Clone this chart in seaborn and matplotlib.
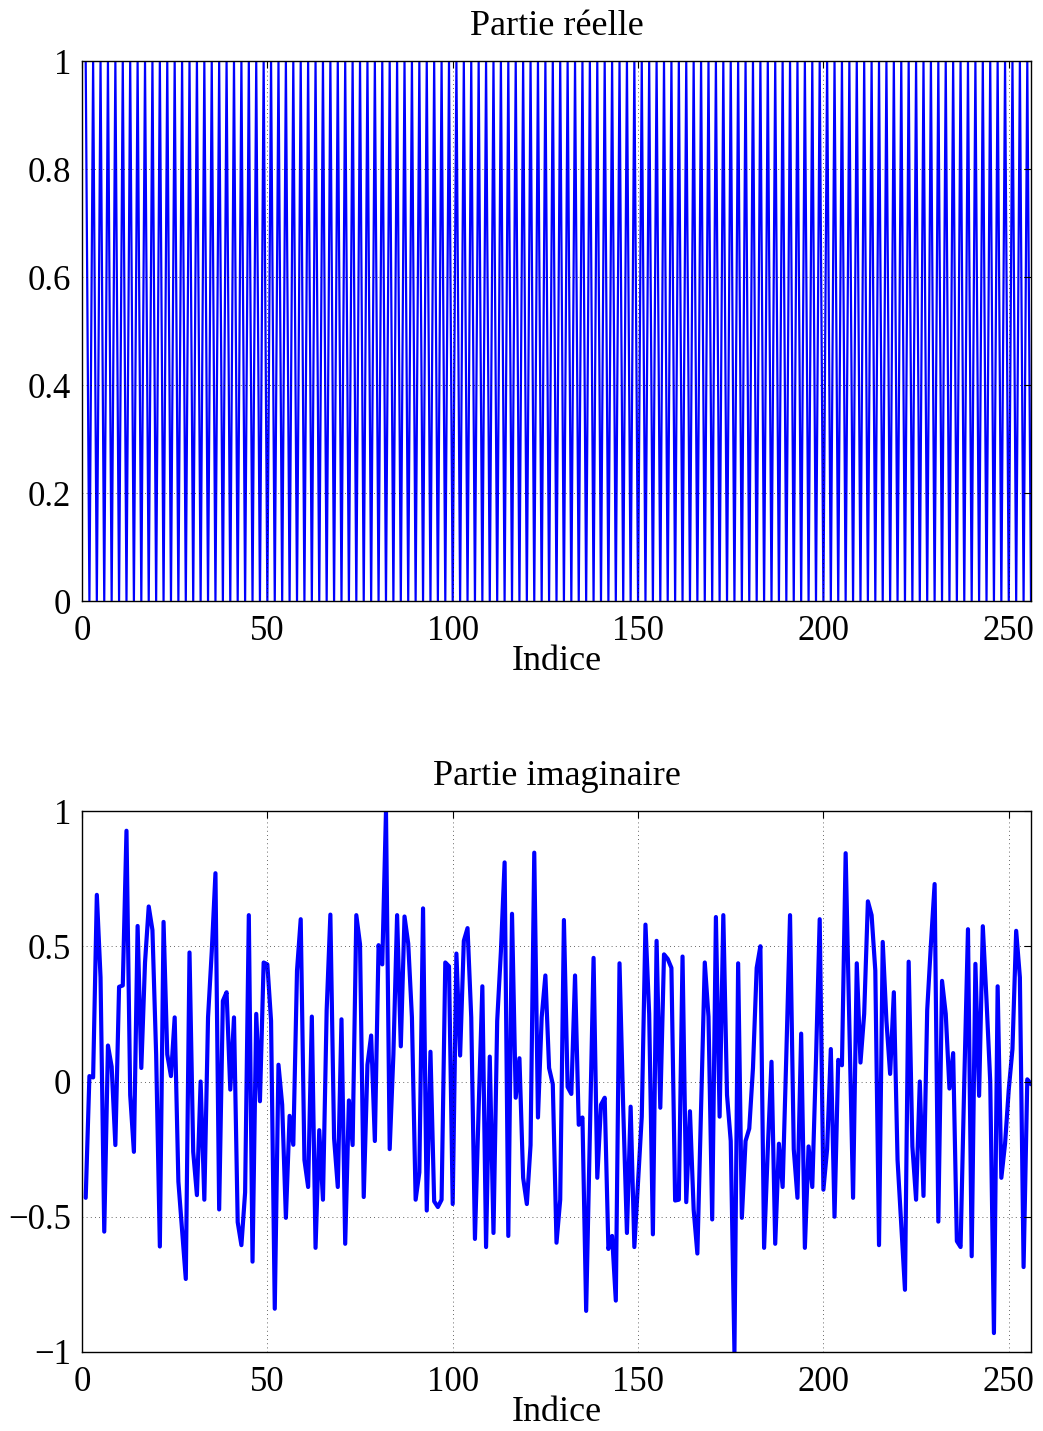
# %%
import numpy as np
import pandas as pd
import matplotlib
matplotlib.use("Agg")
import matplotlib.pyplot as plt
import seaborn as sns

# %%
# real part: alternates 1 / 0 on every sample
real_part = [1, 0] * 128

# imaginary part
imag_part = [
    -0.43, 0.02, 0.015, 0.69, 0.385, -0.555, 0.133, 0.055, -0.235, 0.35,
    0.355, 0.927, -0.05, -0.26, 0.575, 0.05, 0.44, 0.647, 0.56, 0.1,
    -0.61, 0.59, 0.10, 0.02, 0.237, -0.37, -0.55, -0.73, 0.477, -0.26,
    -0.42, 0.0, -0.437, 0.237, 0.48, 0.77, -0.473, 0.298, 0.33, -0.03,
    0.237, -0.52, -0.605, -0.41, 0.615, -0.666, 0.25, -0.073, 0.44, 0.433,
    0.224, -0.84, 0.062, -0.086, -0.504, -0.127, -0.234, 0.41, 0.60, -0.29,
    -0.39, 0.24, -0.615, -0.18, -0.437, 0.264, 0.617, -0.21, -0.39, 0.23,
    -0.6, -0.07, -0.235, 0.615, 0.507, -0.427, 0.062, 0.17, -0.22, 0.504,
    0.433, 1.0, -0.25, 0.1, 0.615, 0.13, 0.61, 0.51, 0.237, -0.437,
    -0.336, 0.64, -0.477, 0.11, -0.443, -0.464, -0.437, 0.44, 0.426, -0.453,
    0.473, 0.096, 0.52, 0.567, 0.237, -0.582, -0.1, 0.352, -0.612, 0.092,
    -0.56, 0.224, 0.48, 0.81, -0.571, 0.62, -0.06, 0.086, -0.356, -0.453,
    -0.235, 0.846, -0.133, 0.237, 0.392, 0.05, -0.01, -0.596, -0.437, 0.597,
    -0.02, -0.046, 0.392, -0.16, -0.133, -0.848, -0.2, 0.457, -0.356, -0.086,
    -0.06, -0.619, -0.571, -0.81, 0.437, -0.1, -0.56, -0.093, -0.612, -0.37,
    -0.13, 0.58, 0.25, -0.565, 0.52, -0.097, 0.47, 0.453, 0.42, -0.44,
    -0.437, 0.462, -0.446, -0.11, -0.474, -0.636, -0.1, 0.44, 0.24, -0.51,
    0.608, -0.13, 0.615, -0.05, -0.22, -1.0, 0.437, -0.504, -0.22, -0.174,
    0.05, 0.42, 0.50, -0.615, -0.25, 0.073, -0.6, -0.23, -0.39, 0.1,
    0.615, -0.25, -0.43, 0.177, -0.615, -0.24, -0.39, 0.08, 0.60, -0.40,
    -0.25, 0.12, -0.5, 0.08, 0.06, 0.844, 0.2, -0.43, 0.437, 0.07,
    0.25, 0.666, 0.615, 0.41, -0.605, 0.516, 0.224, 0.028, 0.33, -0.29,
    -0.53, -0.77, 0.443, -0.24, -0.437, 0.0, -0.423, 0.264, 0.507, 0.73,
    -0.518, 0.372, 0.25, -0.026, 0.105, -0.59, -0.612, 0.0, 0.563, -0.646,
    0.435, -0.053, 0.574, 0.3, 0.0, -0.93, 0.352, -0.356, -0.23, -0.03,
    0.12, 0.557, 0.385, -0.686, 0.008, -0.01,
]
indices = np.arange(1, len(imag_part) + 1)

xticks = [0, 50, 100, 150, 200, 250]
yticks_re = [0, 0.2, 0.4, 0.6, 0.8, 1]
ytick_labels_re = ["0", "0.2", "0.4", "0.6", "0.8", "1"]
yticks_im = [-1, -0.5, 0, 0.5, 1]
ytick_labels_im = ["\u22121", "\u22120.5", "0", "0.5", "1"]

df = pd.DataFrame({"Indice": indices, "re": real_part, "im": imag_part})

# %%
sns.set_style("white")
plt.rcParams["font.family"] = ["Liberation Serif", "DejaVu Serif"]
plt.rcParams["text.color"] = "black"
plt.rcParams["axes.labelcolor"] = "black"

W, H = 1043, 1431
fig = plt.figure(figsize=(W / 100, H / 100), dpi=100)
ax_re = fig.add_axes([82 / W, 1 - 601 / H, 949 / W, 540 / H])
ax_im = fig.add_axes([82 / W, 1 - 1352 / H, 949 / W, 541 / H])

sns.lineplot(data=df, x="Indice", y="re", ax=ax_re, color=(0, 0, 1), lw=1.6,
             estimator=None, legend=False)
sns.lineplot(data=df, x="Indice", y="im", ax=ax_im, color=(0, 0, 1), lw=3.0,
             estimator=None, legend=False)

for ax, title, yt, ytl, ylim in [
    (ax_re, "Partie r\u00e9elle", yticks_re, ytick_labels_re, (0, 1)),
    (ax_im, "Partie imaginaire", yticks_im, ytick_labels_im, (-1, 1)),
]:
    ax.set_xlim(0, 256)
    ax.set_ylim(*ylim)
    ax.set_xticks(xticks)
    ax.set_xticklabels([str(t) for t in xticks])
    ax.set_yticks(yt)
    ax.set_yticklabels(ytl)
    ax.grid(True, color="black", linestyle=(0, (1, 4)), linewidth=0.6, alpha=0.8)
    ax.set_axisbelow(False)
    ax.tick_params(direction="in", length=5, width=0.8, top=True, right=True,
                   labelsize=25, pad=8, colors="black")
    ax.tick_params(axis="x", pad=10)
    for sp in ax.spines.values():
        sp.set_color("black")
        sp.set_linewidth(1.0)
    ax.set_title(title, fontsize=26, pad=19, color="black")
    ax.set_xlabel("Indice", fontsize=26, labelpad=-2, color="black")
    ax.set_ylabel("")

fig.savefig("out.png", dpi=100)
